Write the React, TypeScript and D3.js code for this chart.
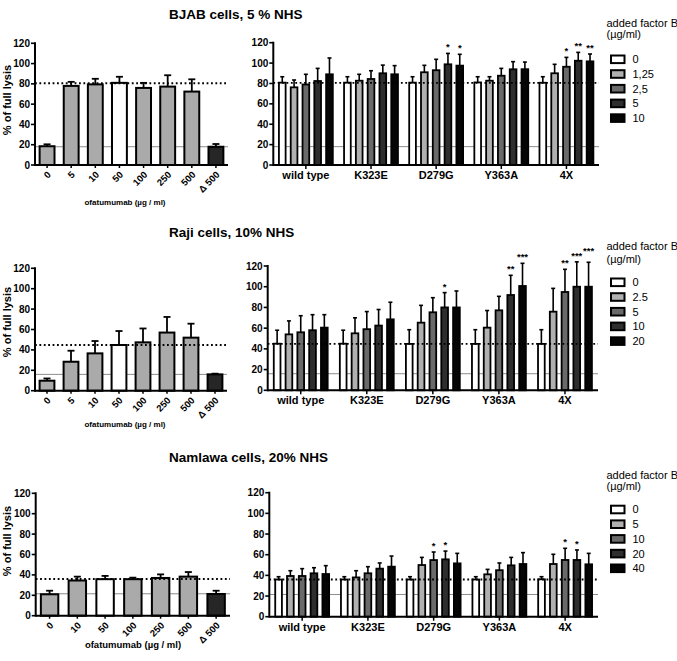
import React from "react";
import * as d3 from "d3";

// ---------- data ----------
const ofaDosesA = ["0", "5", "10", "50", "100", "250", "500", "Δ 500"];
const ofaDosesC = ["0", "10", "50", "100", "250", "500", "Δ 500"];
const mutants = ["wild type", "K323E", "D279G", "Y363A", "4X"];
const yTicks = [0, 20, 40, 60, 80, 100, 120];

// BJAB, 5 % NHS
const bjabOfaMean = [18.5, 78, 79.5, 81, 76, 77.3, 72.4, 18];
const bjabOfaUpper = [20.4, 82, 85, 87, 81, 88.5, 84.5, 20.7];
const bjabFactorB = ["0", "1,25", "2,5", "5", "10"];
const bjabMean = [
  [80.8, 76.2, 79, 82.4, 89],
  [80.8, 82.7, 84.4, 90, 89],
  [80.8, 91, 93, 98.8, 97.5],
  [81, 82.7, 87.6, 93.9, 94],
  [80.7, 90, 96.4, 102.3, 101.7],
];
const bjabUpper = [
  [86.6, 83.4, 89, 94.8, 105],
  [86.6, 89, 92.5, 98, 97.5],
  [86.6, 97.8, 103.7, 109.5, 108.6],
  [86.6, 86.6, 94.8, 101.4, 101],
  [86.6, 98.8, 105.6, 110.5, 108.9],
];
const bjabStars = [
  ["", "", "", "", ""],
  ["", "", "", "", ""],
  ["", "", "", "*", "*"],
  ["", "", "", "", ""],
  ["", "", "*", "**", "**"],
];
const bjabDotted = 80.6;
const bjabBaseline = 18;

// Raji, 10% NHS
const rajiOfaMean = [9.8, 28.4, 36.6, 44.8, 47.4, 57, 52, 16];
const rajiOfaUpper = [12, 39.2, 48.7, 58.5, 61, 72.3, 65.7, 16.7];
const rajiFactorB = ["0", "2.5", "5", "10", "20"];
const rajiMean = [
  [45, 54, 56, 58, 60.5],
  [45, 55, 59, 62.5, 68.5],
  [44.8, 65.3, 75.3, 80, 80],
  [44.8, 60.5, 77.2, 92, 100.7],
  [44.8, 75.9, 94.9, 100, 100],
];
const rajiUpper = [
  [58, 67, 72, 73, 73],
  [58, 70, 76, 78, 85],
  [58.5, 82, 89.4, 94.3, 95.9],
  [58.5, 77, 90.7, 111, 122.6],
  [58.5, 98.4, 116.8, 124, 123.6],
];
const rajiStars = [
  ["", "", "", "", ""],
  ["", "", "", "", ""],
  ["", "", "", "*", ""],
  ["", "", "", "**", "***"],
  ["", "", "**", "***", "***"],
];
const rajiDotted = 44.8;
const rajiBaseline = 16;

// Namlawa, 20% NHS
const namOfaMean = [21, 34.5, 35.8, 35.8, 37, 38.3, 21.3];
const namOfaUpper = [24.5, 38.3, 39, 37.3, 40.5, 42.8, 24.5];
const namFactorB = ["0", "5", "10", "20", "40"];
const namMean = [
  [36, 39.4, 39.4, 42, 41.3],
  [36, 38, 42, 46.5, 48.4],
  [36, 50, 54.8, 55.5, 51.6],
  [36, 41, 45, 49.7, 51],
  [36.2, 51, 54.9, 54.9, 50.7],
];
const namUpper = [
  [38.7, 44.5, 46.5, 47.4, 49.4],
  [38.7, 44.5, 48.4, 52, 58.7],
  [38.7, 57.4, 62.6, 63.5, 61.3],
  [38.7, 45.8, 52, 57.4, 62],
  [38.7, 60.4, 66.2, 64.6, 61.3],
];
const namStars = [
  ["", "", "", "", ""],
  ["", "", "", "", ""],
  ["", "", "*", "*", ""],
  ["", "", "", "", ""],
  ["", "", "*", "*", ""],
];
const namDotted = 36;
const namBaseline = 21.5;

// ---------- layout ----------
const FONT = "'Liberation Sans', Arial, Helvetica, sans-serif";
const seriesFills = ["#ffffff", "#b0b0b0", "#6a6a6a", "#2e2e2e", "#050505"];
const ofaFill = (d: string) => (d === "50" ? "#ffffff" : d.startsWith("Δ") ? "#262626" : "#aaaaaa");

const rows = [
  {
    title: "BJAB cells, 5 % NHS", titleY: 19,
    doses: ofaDosesA, ofaMean: bjabOfaMean, ofaUpper: bjabOfaUpper,
    legend: bjabFactorB, mean: bjabMean, upper: bjabUpper, stars: bjabStars,
    dotted: bjabDotted, solid: bjabBaseline,
    L: { x0: 35, x1: 228, y0: 165, yTop: 43.3, ylabY: 100, xlabY: 205, xlabX: 125, xlabSize: 8 },
    R: { x0: 273.3, x1: 599, y0: 165, yTop: 42.7 },
    leg: { headY: 27, subY: 38, firstY: 59.3 },
  },
  {
    title: "Raji cells, 10% NHS", titleY: 236.5,
    doses: ofaDosesA, ofaMean: rajiOfaMean, ofaUpper: rajiOfaUpper,
    legend: rajiFactorB, mean: rajiMean, upper: rajiUpper, stars: rajiStars,
    dotted: rajiDotted, solid: rajiBaseline,
    L: { x0: 35, x1: 227, y0: 390.7, yTop: 268.3, ylabY: 322, xlabY: 427, xlabX: 125, xlabSize: 8 },
    R: { x0: 267.7, x1: 598, y0: 390.3, yTop: 266 },
    leg: { headY: 250, subY: 263, firstY: 282.3 },
  },
  {
    title: "Namlawa cells, 20% NHS", titleY: 461.5,
    doses: ofaDosesC, ofaMean: namOfaMean, ofaUpper: namOfaUpper,
    legend: namFactorB, mean: namMean, upper: namUpper, stars: namStars,
    dotted: namDotted, solid: namBaseline,
    L: { x0: 35.7, x1: 230, y0: 615.7, yTop: 493.3, ylabY: 541, xlabY: 648, xlabX: 133, xlabSize: 9.5 },
    R: { x0: 269.3, x1: 598, y0: 616.7, yTop: 492.7 },
    leg: { headY: 479, subY: 489.5, firstY: 509.5 },
  },
];

type Row = (typeof rows)[number];

function YAxis({ x, y }: { x: number; y: d3.ScaleLinear<number, number> }) {
  return (
    <g>
      <line x1={x} x2={x} y1={y(0) + 1} y2={y(120) - 1} stroke="#000" strokeWidth={2} />
      {yTicks.map((t) => (
        <g key={t}>
          <line x1={x - 4} x2={x} y1={y(t)} y2={y(t)} stroke="#000" strokeWidth={1.6} />
          <text x={x - 5} y={y(t)} dy="0.35em" textAnchor="end" fontSize={10} fontWeight="bold" fontFamily={FONT}>
            {t}
          </text>
        </g>
      ))}
    </g>
  );
}

function LeftPanel({ row }: { row: Row }) {
  const { L } = row;
  const y = d3.scaleLinear().domain([0, 120]).range([L.y0, L.yTop]);
  const x = d3.scaleBand().domain(row.doses).range([L.x0, L.x1]).paddingInner(0.3).paddingOuter(0.15);
  const bw = x.bandwidth();
  const sw = 2;
  return (
    <g>
      <line x1={L.x0} x2={L.x1} y1={y(row.solid)} y2={y(row.solid)} stroke="#8c8c8c" strokeWidth={1} />
      {row.doses.map((d, i) => {
        const bx = x(d)!;
        const cx = bx + bw / 2;
        return (
          <g key={d}>
            <line x1={cx} x2={cx} y1={y(row.ofaMean[i])} y2={y(row.ofaUpper[i])} stroke="#000" strokeWidth={1.8} />
            <line x1={cx - 3.5} x2={cx + 3.5} y1={y(row.ofaUpper[i])} y2={y(row.ofaUpper[i])} stroke="#000" strokeWidth={1.8} />
            <rect
              x={bx + sw / 2}
              y={y(row.ofaMean[i])}
              width={bw - sw}
              height={y(0) - y(row.ofaMean[i])}
              fill={ofaFill(d)}
              stroke="#000"
              strokeWidth={sw}
            />
          </g>
        );
      })}
      <line x1={L.x0} x2={L.x1} y1={y(row.dotted)} y2={y(row.dotted)} stroke="#000" strokeWidth={1.8} strokeDasharray="1.8,2.6" />
      <line x1={L.x0} x2={L.x1} y1={y(0)} y2={y(0)} stroke="#000" strokeWidth={2} />
      {row.doses.map((d) => {
        const cx = x(d)! + bw / 2;
        return (
          <g key={"t" + d}>
            <line x1={cx} x2={cx} y1={y(0)} y2={y(0) + 3} stroke="#000" strokeWidth={1.5} />
            <text
              transform={`translate(${cx + 2},${y(0) + 8}) rotate(-45)`}
              dy="0.35em"
              textAnchor="end"
              fontSize={9.5}
              fontWeight="bold"
              fontFamily={FONT}
            >
              {d}
            </text>
          </g>
        );
      })}
      <YAxis x={L.x0} y={y} />
      <text
        transform={`translate(10.5,${L.ylabY}) rotate(-90)`}
        textAnchor="middle"
        fontSize={11}
        fontWeight="bold"
        fontFamily={FONT}
      >
        % of full lysis
      </text>
      <text x={L.xlabX} y={L.xlabY} textAnchor="middle" fontSize={L.xlabSize} fontWeight="bold" fontFamily={FONT}>
        ofatumumab (µg / ml)
      </text>
    </g>
  );
}

function RightPanel({ row }: { row: Row }) {
  const { R } = row;
  const y = d3.scaleLinear().domain([0, 120]).range([R.y0, R.yTop]);
  const gx = d3.scaleBand().domain(mutants).range([R.x0, R.x1]);
  const ix = d3
    .scaleBand()
    .domain(row.legend)
    .range([-29.5, 29.5])
    .paddingInner(0.28)
    .paddingOuter(0.14);
  const bw = ix.bandwidth();
  const sw = 1.8;
  return (
    <g>
      <line x1={R.x0} x2={R.x1} y1={y(row.solid)} y2={y(row.solid)} stroke="#8c8c8c" strokeWidth={1} />
      {mutants.map((m, gi) => {
        const gc = gx(m)! + gx.bandwidth() / 2;
        const starY: number[] = [];
        row.legend.forEach((_, si) => {
          let sy = y(row.upper[gi][si]) - 3;
          const prev = si - 1;
          if (
            prev >= 0 &&
            row.stars[gi][si] &&
            row.stars[gi][prev] &&
            row.stars[gi][si].length + row.stars[gi][prev].length >= 6 &&
            Math.abs(sy - starY[prev]) < 5
          ) {
            sy = starY[prev] - 5;
          }
          starY.push(sy);
        });
        return (
          <g key={m}>
            {row.legend.map((s, si) => {
              const bx = gc + ix(s)!;
              const cx = bx + bw / 2;
              const v = row.mean[gi][si];
              const u = row.upper[gi][si];
              const star = row.stars[gi][si];
              return (
                <g key={s}>
                  <line x1={cx} x2={cx} y1={y(v)} y2={y(u)} stroke="#000" strokeWidth={1.6} />
                  <line x1={cx - 2} x2={cx + 2} y1={y(u)} y2={y(u)} stroke="#000" strokeWidth={1.6} />
                  <rect
                    x={bx + sw / 2}
                    y={y(v)}
                    width={bw - sw}
                    height={y(0) - y(v)}
                    fill={seriesFills[si]}
                    stroke="#000"
                    strokeWidth={sw}
                  />
                  {star && (
                    <text x={cx} y={starY[si]} textAnchor="middle" fontSize={9.5} fontWeight="bold" fontFamily={FONT}>
                      {star}
                    </text>
                  )}
                </g>
              );
            })}
          </g>
        );
      })}
      <line x1={R.x0} x2={R.x1} y1={y(row.dotted)} y2={y(row.dotted)} stroke="#000" strokeWidth={1.8} strokeDasharray="1.8,2.6" />
      <line x1={R.x0} x2={R.x1} y1={y(0)} y2={y(0)} stroke="#000" strokeWidth={2} />
      {mutants.map((m) => {
        const gc = gx(m)! + gx.bandwidth() / 2;
        return (
          <g key={"t" + m}>
            <line x1={gc} x2={gc} y1={y(0)} y2={y(0) + 4} stroke="#000" strokeWidth={1.5} />
            <text x={gc} y={y(0) + 14} textAnchor="middle" fontSize={11} fontWeight="bold" fontFamily={FONT}>
              {m}
            </text>
          </g>
        );
      })}
      <YAxis x={R.x0} y={y} />
    </g>
  );
}

function Legend({ row }: { row: Row }) {
  const { leg } = row;
  const step = 14.7;
  return (
    <g fontFamily={FONT}>
      <text x={606.5} y={leg.headY} fontSize={11}>
        added factor B
      </text>
      <text x={606.5} y={leg.subY} fontSize={11}>
        (µg/ml)
      </text>
      {row.legend.map((s, i) => {
        const cy = leg.firstY + i * step;
        return (
          <g key={s}>
            <rect x={611} y={cy - 3.8} width={13.5} height={7.6} fill={seriesFills[i]} stroke="#000" strokeWidth={2} />
            <text x={632.5} y={cy} dy="0.36em" fontSize={11}>
              {s}
            </text>
          </g>
        );
      })}
    </g>
  );
}

export default function App() {
  return (
    <svg
      width={677}
      height={661}
      viewBox="0 0 677 661"
      style={{ position: "absolute", left: 0, top: 0, background: "#fff" }}
    >
      <rect x={0} y={0} width={677} height={661} fill="#fff" />
      {rows.map((row) => (
        <g key={row.title}>
          <text x={169} y={row.titleY} fontSize={13.5} fontWeight="bold" fontFamily={FONT}>
            {row.title}
          </text>
          <LeftPanel row={row} />
          <RightPanel row={row} />
          <Legend row={row} />
        </g>
      ))}
    </svg>
  );
}
